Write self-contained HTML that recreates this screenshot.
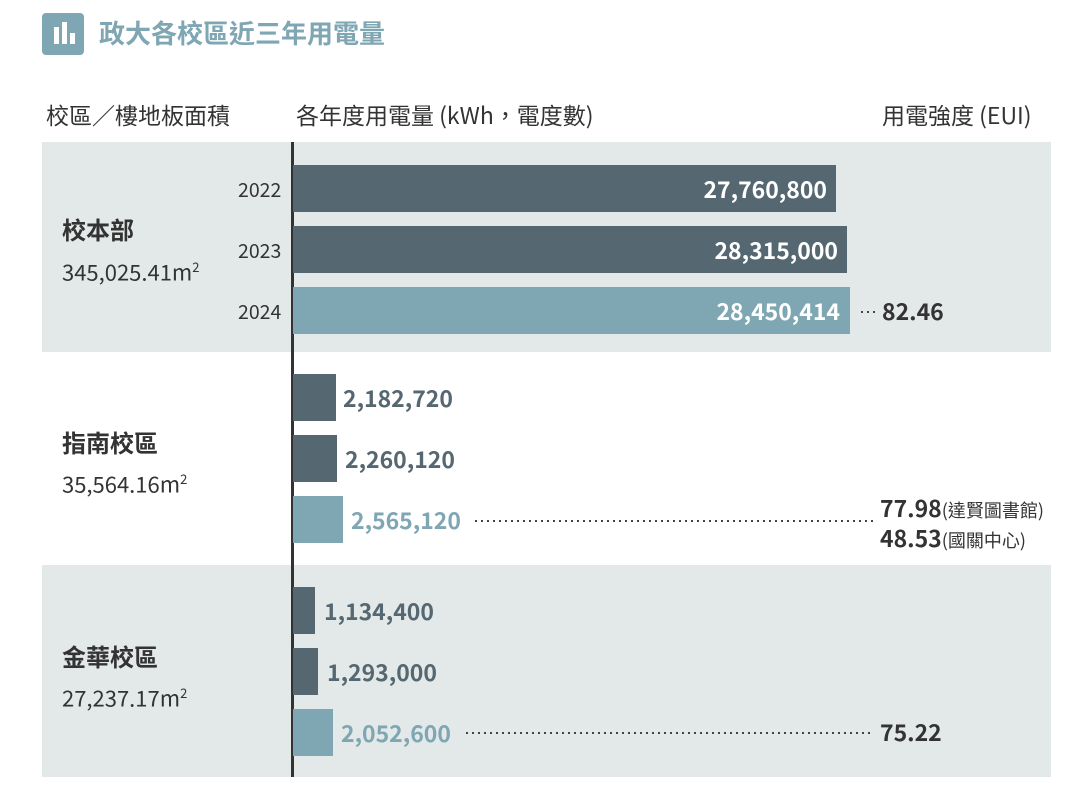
<!DOCTYPE html>
<html><head><meta charset="utf-8"><style>
body{margin:0;width:1090px;height:796px;background:#fff;position:relative;overflow:hidden;font-family:"Noto Sans CJK TC","Liberation Sans",sans-serif;color:#333}
div,span{position:absolute}
.band{left:42px;width:1009px;background:#e3e8e8}
.bar{left:293px;height:47px}
.d{background:#556770}.l{background:#7fa6b3}
.in{color:#fff;font-weight:bold;font-size:23px;text-align:right;line-height:47px}
.out{font-weight:bold;font-size:23px;line-height:47px;color:#556770}
.yr{font-size:19.5px;left:238px;line-height:47px}
.name{font-weight:bold;font-size:24px;left:62px;line-height:30px}
.area{font-size:22px;left:62px;line-height:28px}
.dots{height:2px;background:repeating-linear-gradient(90deg,#444 0 2px,transparent 2px 6px)}
.eui{font-weight:bold;font-size:23px;color:#333;line-height:30px}
.sm{font-size:18px;font-weight:normal}
.hd{font-size:23px;line-height:30px;top:99px}
</style></head><body>
<div style="left:42px;top:13px;width:42px;height:42px;background:#7fa6b3;border-radius:4px"></div>
<div style="left:54px;top:27px;width:5px;height:17px;background:#fff"></div>
<div style="left:62px;top:22px;width:5px;height:22px;background:#fff"></div>
<div style="left:70px;top:33px;width:5px;height:11px;background:#fff"></div>
<div style="left:99px;top:15px;font-size:26px;line-height:36px;font-weight:bold;color:#7fa6b3">政大各校區近三年用電量</div>
<div class="hd" style="left:46px">校區／樓地板面積</div>
<div class="hd" style="left:296px">各年度用電量 (kWh，電度數)</div>
<div class="hd" style="left:882px">用電強度 (EUI)</div>
<div class="band" style="top:142px;height:210px"></div>
<div class="band" style="top:565px;height:212px"></div>
<div style="left:291px;top:142px;width:3px;height:635px;background:#333"></div>

<div class="name" style="top:214px">校本部</div><div class="area" style="top:253px">345,025.41m<sup style="font-size:13px">2</sup></div>
<div class="name" style="top:427px">指南校區</div><div class="area" style="top:465px">35,564.16m<sup style="font-size:13px">2</sup></div>
<div class="name" style="top:641px">金華校區</div><div class="area" style="top:679px">27,237.17m<sup style="font-size:13px">2</sup></div>

<div class="yr" style="top:165px">2022</div><div class="yr" style="top:226px">2023</div><div class="yr" style="top:287px">2024</div>
<div class="bar d in" style="top:165px;width:543px"><span style="right:9px">27,760,800</span></div>
<div class="bar d in" style="top:226px;width:554px"><span style="right:9px">28,315,000</span></div>
<div class="bar l in" style="top:287px;width:557px"><span style="right:10px">28,450,414</span></div>
<div class="dots" style="left:861px;top:311px;width:16px"></div>
<div class="eui" style="left:882px;top:295px">82.46</div>

<div class="bar d" style="top:374px;width:43px"></div><div class="out" style="left:343px;top:374px">2,182,720</div>
<div class="bar d" style="top:435px;width:44px"></div><div class="out" style="left:345px;top:435px">2,260,120</div>
<div class="bar l" style="top:496px;width:50px"></div><div class="out" style="left:351px;top:496px;color:#7fa6b3">2,565,120</div>
<div class="dots" style="left:475px;top:520px;width:398px"></div>
<div class="eui" style="left:880px;top:492px">77.98<span class="sm" style="position:static">(達賢圖書館)</span></div>
<div class="eui" style="left:880px;top:522px">48.53<span class="sm" style="position:static">(國關中心)</span></div>

<div class="bar d" style="top:587px;width:22px"></div><div class="out" style="left:324px;top:587px">1,134,400</div>
<div class="bar d" style="top:648px;width:25px"></div><div class="out" style="left:327px;top:648px">1,293,000</div>
<div class="bar l" style="top:709px;width:40px"></div><div class="out" style="left:341px;top:709px;color:#7fa6b3">2,052,600</div>
<div class="dots" style="left:466px;top:732px;width:407px"></div>
<div class="eui" style="left:880px;top:716px">75.22</div>
</body></html>
